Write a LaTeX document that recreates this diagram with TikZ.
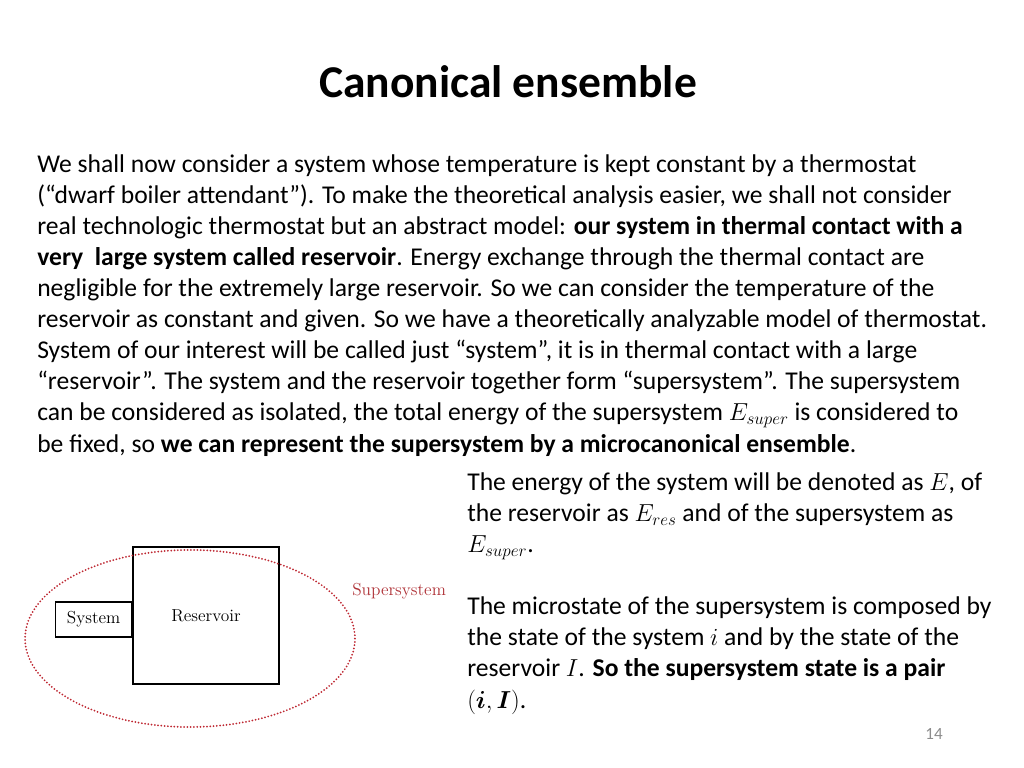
\documentclass[tikz,border=0pt]{standalone}
\usepackage{amsmath, amssymb}
\usepackage{fontspec}
\setmainfont{Carlito}
\usepackage{tikz}
\usetikzlibrary{positioning, shapes.geometric}

\definecolor{supred}{RGB}{190,40,50}
\definecolor{labelred}{RGB}{175,50,55}
\definecolor{pagegray}{RGB}{140,140,140}
\newfontfamily\lmserif{Latin Modern Roman}

\tikzset{
  bodytext/.style={anchor=base west, align=left, inner sep=0pt,
    font=\fontsize{18}{21.8}\selectfont},
  boxnode/.style={draw, line width=1pt, inner sep=0pt,
    font=\lmserif\fontsize{12.2}{14}\selectfont},
}

\begin{document}
\begin{tikzpicture}[x=0.703125pt, y=-0.703125pt]
    \useasboundingbox (0,0) rectangle (1024,768);

    \node[font=\bfseries\fontsize{32}{38}\selectfont] (title) at (508,82) {Canonical ensemble};

    % base of a multi-line node is the baseline of its last line
    \node[bodytext] (intro) at (37,452) {%
We shall now consider a system whose temperature is kept constant by a thermostat\\
(“dwarf boiler attendant”). To make the theoretical analysis easier, we shall not consider\\
real technologic thermostat but an abstract model: \textbf{our system in thermal contact with a}\\
\textbf{very\ \ large system called reservoir}. Energy exchange through the thermal contact are\\
negligible for the extremely large reservoir. So we can consider the temperature of the\\
reservoir as constant and given. So we have a theoretically analyzable model of thermostat.\\
System of our interest will be called just “system”, it is in thermal contact with a large\\
“reservoir”. The system and the reservoir together form “supersystem”. The supersystem\\
can be considered as isolated, the total energy of the supersystem $E_{super}$ is considered to\\
be fixed, so \textbf{we can represent the supersystem by a microcanonical ensemble}.};

    \node[bodytext] (statetext) at (467,708) {%
The energy of the system will be denoted as $E$, of\\
the reservoir as $E_{res}$ and of the supersystem as\\
$E_{super}$.\\
\strut\\
The microstate of the supersystem is composed by\\
the state of the system $i$ and by the state of the\\
reservoir $I$. \textbf{So the supersystem state is a pair}\\
$(\boldsymbol{i},\boldsymbol{I})$.};

    % reservoir, system and supersystem
    \node[boxnode, minimum width=102.6pt, minimum height=96.3pt] (reservoir) at (206,615.5) {Reservoir};
    \node[boxnode, minimum width=53.4pt, minimum height=24.6pt, anchor=east] (system) at ([yshift=-2.8pt]reservoir.west) {System};
    \node[ellipse, draw=supred, line width=1.4pt, line cap=round, dash pattern=on 0pt off 2.3pt,
          minimum width=232pt, minimum height=124.5pt] (supersys) at (190,638.5) {};
    \node[anchor=west, inner sep=0pt, text=labelred, font=\lmserif\fontsize{12.2}{14}\selectfont] (suplabel) at (352,591) {Supersystem};

    \node[text=pagegray, font=\fontsize{12}{14}\selectfont] (pagenum) at (934,734) {14};
\end{tikzpicture}
\end{document}
